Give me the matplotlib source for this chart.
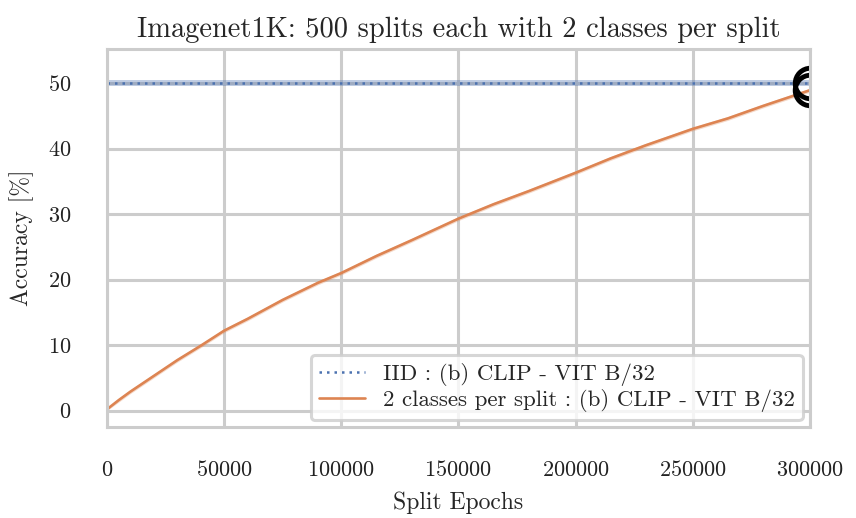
import matplotlib
matplotlib.use("Agg")
import matplotlib.pyplot as plt
import seaborn as sns
import numpy as np

# values
epochs = [0, 5000, 10000, 20000, 30000, 40000, 50000, 60000, 75000, 90000,
          100000, 115000, 130000, 150000, 165000, 180000, 200000, 215000,
          230000, 250000, 265000, 280000, 300000]
acc_split = [0.2, 1.6, 2.9, 5.3, 7.7, 9.9, 12.2, 14.0, 16.9, 19.5,
             21.0, 23.6, 26.0, 29.3, 31.5, 33.5, 36.3, 38.5,
             40.5, 43.0, 44.6, 46.5, 48.9]
acc_split_std = [0.2, 0.3, 0.3, 0.3, 0.3, 0.3, 0.3, 0.3, 0.3, 0.3,
                 0.3, 0.3, 0.3, 0.3, 0.3, 0.3, 0.3, 0.3,
                 0.3, 0.3, 0.3, 0.3, 0.3]
acc_iid = 50.0
acc_iid_std = 0.4

label_iid = "IID : (b) CLIP - VIT B/32"
label_split = "2 classes per split : (b) CLIP - VIT B/32"
title = "Imagenet1K: 500 splits each with 2 classes per split"

sns.set_theme(style="whitegrid")
plt.rcParams["font.family"] = "serif"
plt.rcParams["font.serif"] = ["cmr10"]
plt.rcParams["mathtext.fontset"] = "cm"
plt.rcParams["axes.formatter.use_mathtext"] = True
plt.rcParams["axes.unicode_minus"] = False

blue = "#4c72b0"
orange = "#dd8452"

fig = plt.figure(figsize=(8.56, 5.18), dpi=100)
ax = fig.add_axes([0.125, 0.1757, 0.821, 0.7297])

x = np.array(epochs)
y = np.array(acc_split)
s = np.array(acc_split_std)

ax.fill_between([0, 300000], acc_iid - acc_iid_std, acc_iid + acc_iid_std,
                color=blue, alpha=0.35, lw=0)
ax.plot([0, 300000], [acc_iid, acc_iid], ls=(0, (1, 2)), color=blue, lw=1.8, label=label_iid)
ax.fill_between(x, y - s, y + s, color=orange, alpha=0.3, lw=0)
ax.plot(x, y, color=orange, lw=1.9, label=label_split)

# end-point markers
ax.plot([300000], [acc_iid], marker="o", ms=22, mfc="none", mec="black", mew=3.5, ls="none")
ax.plot([300000], [acc_split[-1]], marker="o", ms=22, mfc="none", mec="black", mew=3.5, ls="none")

ax.set_xlim(0, 300000)
ax.set_ylim(-2.5, 55.2)
ax.set_xticks(np.arange(0, 300001, 50000))
ax.set_yticks(np.arange(0, 51, 10))
ax.tick_params(axis="both", labelsize=16, colors="#222222")
ax.tick_params(axis="x", pad=18)
ax.tick_params(axis="y", pad=20)

ax.grid(True, color=".8", lw=2.2)
for sp in ax.spines.values():
    sp.set_color(".8")
    sp.set_linewidth(2.2)

ax.set_title(title, fontsize=20.5, pad=9)
ax.set_xlabel("Split Epochs", fontsize=17, labelpad=8)
ax.set_ylabel("Accuracy [%]", fontsize=17, labelpad=10)

leg = ax.legend(loc="lower right", bbox_to_anchor=(1.0, 0.0), borderaxespad=0.3,
                fontsize=16.5, frameon=True, handlelength=2.0, labelspacing=0.15,
                borderpad=0.35)
leg.get_frame().set_edgecolor(".8")
leg.get_frame().set_linewidth(2.2)

fig.savefig("out.png", dpi=100)
